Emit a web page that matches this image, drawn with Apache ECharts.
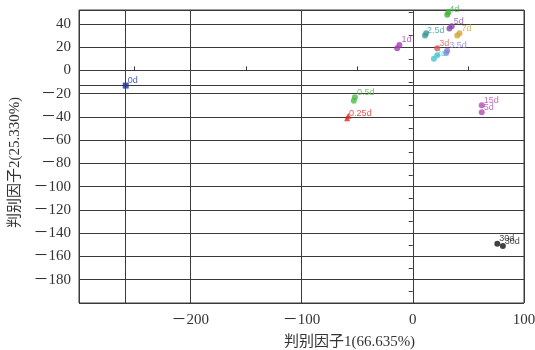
<!DOCTYPE html>
<html>
<head>
<meta charset="utf-8">
<script src="https://cdn.jsdelivr.net/npm/echarts@6/dist/echarts.min.js"></script>
<style>html,body{margin:0;padding:0;background:#fff}#c{width:535px;height:350px}</style>
</head>
<body>
<div id="c"></div>
<script>
// ---- data ----
const groupNames = ['0d','0.25d','0.5d','1d','2d','2.5d','3d','3.5d','4d','5d','7d','15d','30d'];
const pointGroup = [0, 1,1, 2,2, 3,3, 4,4, 5,5, 6, 7,7, 8,8, 9,9, 10,10, 11,11, 12,12];
const pointX     = [-258, -59,-58, -52,-53, -12,-14, 19,22, 11,12, 22, 31,30, 31,32, 35,33, 42,40, 62,62, 76,81];
const pointY     = [-13, -41,-39, -23,-26, 22,19, 10,13, 30,32, 19, 17,15, 48,50, 38,36, 32,30, -30,-36, -149,-151];
const pointText  = ['0d', '0.25d','', '0.5d','', '1d','', '2d','', '2.5d','', '3d', '3.5d','', '4d','', '5d','', '7d','', '15d','5d', '30d','30d'];
const refLineX = [-258];
const refLineY = [-13];
const xTickLabels = [-200, -100, 0, 100];
const yTickLabels = [40, 20, 0, -20, -40, -60, -80, -100, -120, -140, -160, -180];

// ---- styles ----
const groupColors = ['#1f2f9c','#e3261d','#4fbb4a','#a53fb4','#45c6d2','#3a9c9a','#e2524e','#8585d4','#3fb23b','#8a45a8','#d4a533','#b04cb4','#111111'];
const groupSymbols = ['rect','triangle','circle','circle','circle','circle','circle','circle','circle','circle','circle','circle','circle'];
const lineColor = '#3a3a3a';
const tickFont = 'Liberation Serif, "Noto Sans CJK SC", serif';

const series = groupNames.map((name, g) => {
  const data = [];
  pointGroup.forEach((pg, i) => { if (pg === g) data.push([pointX[i], pointY[i], pointText[i]]); });
  const s = {
    name, type: 'scatter', data,
    symbol: groupSymbols[g], symbolSize: 6,
    itemStyle: { color: groupColors[g] },
    label: {
      show: true, position: 'right', distance: 0, offset: [-1, -5],
      formatter: p => p.data[2], fontSize: 9, color: groupColors[g],
      fontFamily: 'Liberation Sans, sans-serif'
    },
    z: 5
  };
  if (g === 0) {
    s.markLine = {
      silent: true, symbol: ['none','none'], label: { show: false },
      lineStyle: { color: lineColor, width: 1, type: 'solid' },
      data: refLineX.map(v => ({ xAxis: v })).concat(refLineY.map(v => ({ yAxis: v })))
    };
  }
  return s;
});

const fmtMinus = v => (v < 0 ? '－' + Math.abs(v) : String(v));

const chart = echarts.init(document.getElementById('c'), null, { renderer: 'canvas' });
chart.setOption({
  animation: false,
  backgroundColor: '#fff',
  grid: { left: 79, right: 11, top: 10, bottom: 47, show: true, borderColor: lineColor, borderWidth: 1, outerBoundsMode: 'none', containLabel: false },
  xAxis: [
    {
      type: 'value', min: -300, max: 100, interval: 100,
      axisLine: { show: false, onZero: false }, axisTick: { show: false },
      splitLine: { show: true, lineStyle: { color: lineColor, width: 1 } },
      axisLabel: {
        margin: 10, fontSize: 15, color: '#333', fontFamily: tickFont,
        showMinLabel: false,
        formatter: v => (xTickLabels.indexOf(v) >= 0 ? fmtMinus(v) : '')
      },
      name: '判别因子1(66.635%)', nameLocation: 'middle', nameGap: 32,
      nameTextStyle: { fontSize: 15, color: '#333', fontFamily: tickFont, padding: [0, 0, 0, 96] }
    },
    {
      type: 'value', min: -300, max: 100, interval: 50, position: 'top',
      axisLine: { show: false, onZero: true, onZeroAxisIndex: 0 },
      axisTick: { show: true, inside: false, length: 4, lineStyle: { color: lineColor, width: 1 } },
      axisLabel: { show: false }, splitLine: { show: false }
    }
  ],
  yAxis: [
    {
      type: 'value', min: -200, max: 52, interval: 20,
      axisLine: { show: false, onZero: false }, axisTick: { show: false },
      splitLine: { show: true, lineStyle: { color: lineColor, width: 1 } },
      axisLabel: {
        margin: 8, fontSize: 15, color: '#333', fontFamily: tickFont,
        showMinLabel: false, showMaxLabel: false,
        formatter: v => (yTickLabels.indexOf(v) >= 0 ? fmtMinus(v) : '')
      },
      name: '判别因子2(25.330%)', nameLocation: 'middle', nameGap: 54,
      nameTextStyle: { fontSize: 15, color: '#333', fontFamily: tickFont, padding: [0, 12, 0, 0] }
    },
    {
      type: 'value', min: -200, max: 52, interval: 10, position: 'right',
      axisLine: { show: false, onZero: true, onZeroAxisIndex: 0 },
      axisTick: { show: true, inside: true, length: 4, lineStyle: { color: lineColor, width: 1 } },
      axisLabel: { show: false }, splitLine: { show: false }
    }
  ],
  series
});
</script>
</body>
</html>
